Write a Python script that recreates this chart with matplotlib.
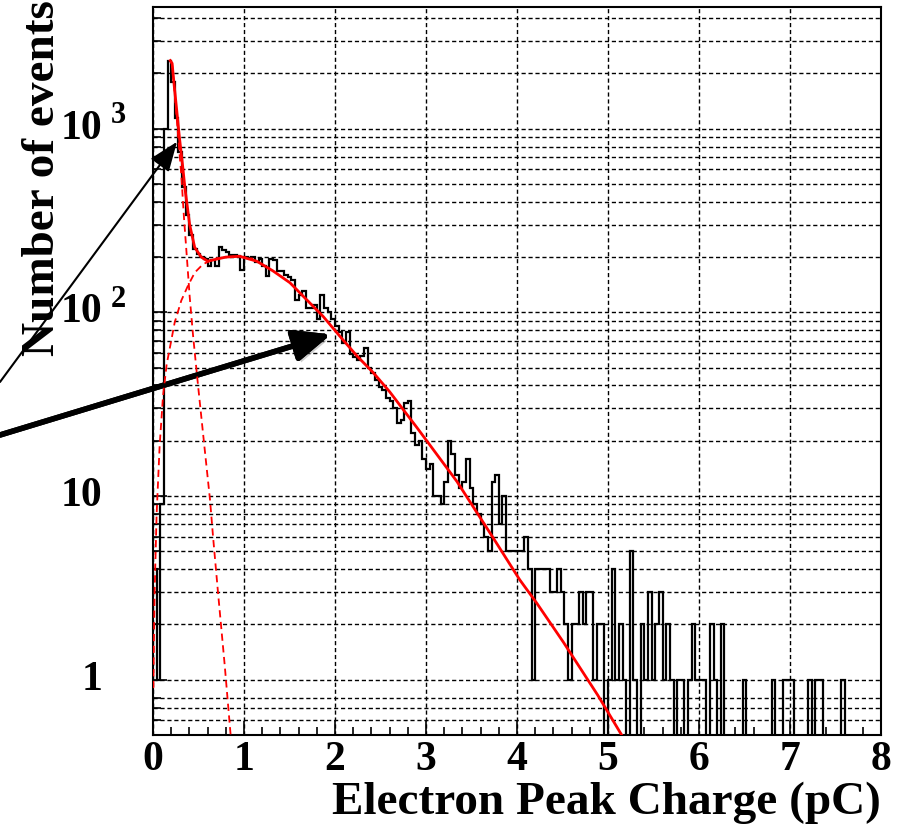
import numpy as np
import matplotlib.pyplot as plt
import matplotlib.transforms as mtransforms
import matplotlib.patheffects as pe
from matplotlib.ticker import FixedLocator, NullFormatter

plt.rcParams['font.family'] = ['Liberation Serif', 'DejaVu Serif']
plt.rcParams['font.weight'] = 'bold'

# histogram: 200 bins of 0.04 pC between 0 and 8
x_lo, x_hi, n_bins = 0.0, 8.0, 200
counts = [
    4, 1, 9, 1000, 2350, 1800, 1150, 750, 480, 340,
    265, 220, 208, 200, 196, 178, 192, 180, 228, 218,
    212, 205, 206, 204, 170, 200, 198, 200, 188, 195,
    180, 157, 196, 194, 168, 168, 160, 155, 150, 117,
    125, 130, 105, 106, 110, 92, 125, 106, 100, 92,
    84, 78, 68, 78, 59, 57, 55, 58, 64, 50,
    47, 43, 39, 38, 34, 33, 30, 25, 26, 32,
    33, 22, 19, 20, 16, 14, 15, 10, 10, 9,
    12, 20, 17, 13, 11, 12, 16, 11, 9, 8,
    7, 6, 5, 12, 13, 7, 10, 5, 5, 5,
    5, 5, 6, 4, 1, 4, 4, 4, 4, 3,
    3, 4, 3, 2, 1, 2, 2, 3, 2, 3,
    3, 1, 2, 2, 0, 1, 4, 1, 2, 1,
    0, 5, 1, 0, 2, 1, 3, 1, 2, 3,
    1, 2, 1, 0, 1, 1, 0, 1, 2, 1,
    1, 1, 0, 2, 1, 0, 2, 0, 0, 0,
    0, 0, 1, 0, 0, 0, 0, 0, 0, 0,
    1, 0, 0, 1, 1, 1, 0, 0, 0, 0,
    1, 0, 1, 1, 0, 0, 0, 0, 0, 1,
    0, 0, 0, 0, 0, 0, 0, 0, 0, 0,
]

# total fit (solid red)
fit_x = [0.19, 0.21, 0.234, 0.26, 0.289, 0.326, 0.352, 0.403, 0.458, 0.53,
         0.60, 0.70, 0.80, 0.95, 1.14, 1.32, 1.505, 1.69, 1.87, 2.055,
         2.24, 2.42, 2.60, 2.90, 3.34, 3.74, 4.03, 4.22, 4.51, 4.89, 5.15, 5.25]
fit_y = [2350, 2270, 1700, 1270, 910, 625, 470, 300, 226, 200,
         190, 195, 200, 202, 190, 168, 145, 117, 95, 74,
         58, 47, 37, 23.6, 12.0, 5.9, 3.5, 2.6, 1.6, 0.82, 0.5, 0.42]

# pedestal component (dashed)
ped_x = [0.19, 0.21, 0.234, 0.26, 0.289, 0.311, 0.34, 0.366, 0.403, 0.44,
         0.495, 0.568, 0.626, 0.66, 0.714, 0.788, 0.846, 0.87]
ped_y = [2330, 2250, 1650, 1150, 760, 560, 330, 220, 122, 75,
         40, 18, 9.6, 6.0, 3.0, 1.2, 0.55, 0.4]

# signal component (dashed)
sig_x = [0.004, 0.011, 0.018, 0.04, 0.073, 0.11, 0.15, 0.20, 0.238, 0.311,
         0.385, 0.46, 0.55, 0.68, 0.80, 0.95, 1.1]
sig_y = [0.9, 1.76, 3.05, 8, 18.8, 35, 52, 70, 88, 116,
         140, 165, 183, 196, 200, 202, 196]

x_ticks = [0, 1, 2, 3, 4, 5, 6, 7, 8]
y_ticks = [1, 10, 100, 1000]
y_base = ['1', '10', '10', '10']
y_exp = ['', '', '2', '3']

fig = plt.figure(figsize=(8.98, 8.30), dpi=100)
ax = fig.add_axes([153/898, 95/830, 728/898, 728/830])

edges = np.linspace(x_lo, x_hi, n_bins + 1)
vals = np.array(counts, dtype=float)
vals = np.where(vals > 0, vals, 1e-3)
ax.stairs(vals, edges, color='black', lw=1.6, baseline=None, zorder=3)

ax.plot(ped_x, ped_y, color='red', lw=1.3, ls=(0, (4, 2.5)), zorder=4)
ax.plot(sig_x, sig_y, color='red', lw=1.3, ls=(0, (4, 2.5)), zorder=4)
ax.plot(fit_x, fit_y, color='red', lw=2.0, zorder=5)

ax.set_yscale('log')
ax.set_xlim(x_lo, x_hi)
ax.set_ylim(0.5, 4600)

y_minor = [0.6, 0.7, 0.8]
for e in range(4):
    for k in range(2, 10):
        if k * 10**e < 4600:
            y_minor.append(k * 10**e)
ax.yaxis.set_major_locator(FixedLocator(y_ticks))
ax.yaxis.set_minor_locator(FixedLocator(y_minor))
ax.yaxis.set_major_formatter(NullFormatter())
ax.yaxis.set_minor_formatter(NullFormatter())

ax.set_xticks(x_ticks)
ax.set_xticklabels([str(t) for t in x_ticks])
ax.xaxis.set_minor_locator(FixedLocator(np.arange(0, 8.01, 0.2)))

ax.grid(True, which='both', axis='y', color='black', lw=1.0, ls=(0, (3, 2)))
ax.grid(True, which='major', axis='x', color='black', lw=1.0, ls=(0, (3, 2)))
ax.set_axisbelow(True)

ax.tick_params(which='both', direction='in', top=False, right=False, width=1.2)
ax.tick_params(which='major', length=10)
ax.tick_params(which='minor', length=6)
ax.tick_params(axis='x', labelsize=30, pad=4)
for s in ax.spines.values():
    s.set_linewidth(1.5)

trans = mtransforms.blended_transform_factory(ax.transAxes, ax.transData)
for v, b, ex in zip(y_ticks, y_base, y_exp):
    ax.text(-0.069, v, b, transform=trans, ha='right', va='center',
            fontsize=30, fontweight='bold')
    if ex:
        ax.text(-0.058, v * 10**0.07, ex, transform=trans, ha='left',
                va='center', fontsize=22, fontweight='bold')

ax.set_xlabel('Electron Peak Charge (pC)', fontsize=34, fontweight='bold',
              loc='right', labelpad=2)
ax.set_ylabel('Number of events', fontsize=34, fontweight='bold', loc='top')
ax.yaxis.set_label_coords(-0.122, 1.01)

# pointer arrows coming in from the left edge
ax.annotate('', xy=(0.264, 849), xycoords='data', xytext=(0, 448),
            textcoords='figure pixels', annotation_clip=False,
            arrowprops=dict(arrowstyle='-|>,head_length=1.3,head_width=0.5',
                            color='black', lw=1.5, shrinkA=0, shrinkB=0,
                            mutation_scale=14))
arr = ax.annotate('', xy=(1.956, 75.9), xycoords='data', xytext=(0, 395),
                  textcoords='figure pixels', annotation_clip=False,
                  arrowprops=dict(arrowstyle='-|>,head_length=1.4,head_width=0.6',
                                  color='black', lw=4, shrinkA=0, shrinkB=0,
                                  mutation_scale=16))
arr.arrow_patch.set_path_effects([
    pe.withSimplePatchShadow(offset=(2, -3), shadow_rgbFace='gray', alpha=0.4),
    pe.Normal()])

fig.savefig('out.png', dpi=100)
